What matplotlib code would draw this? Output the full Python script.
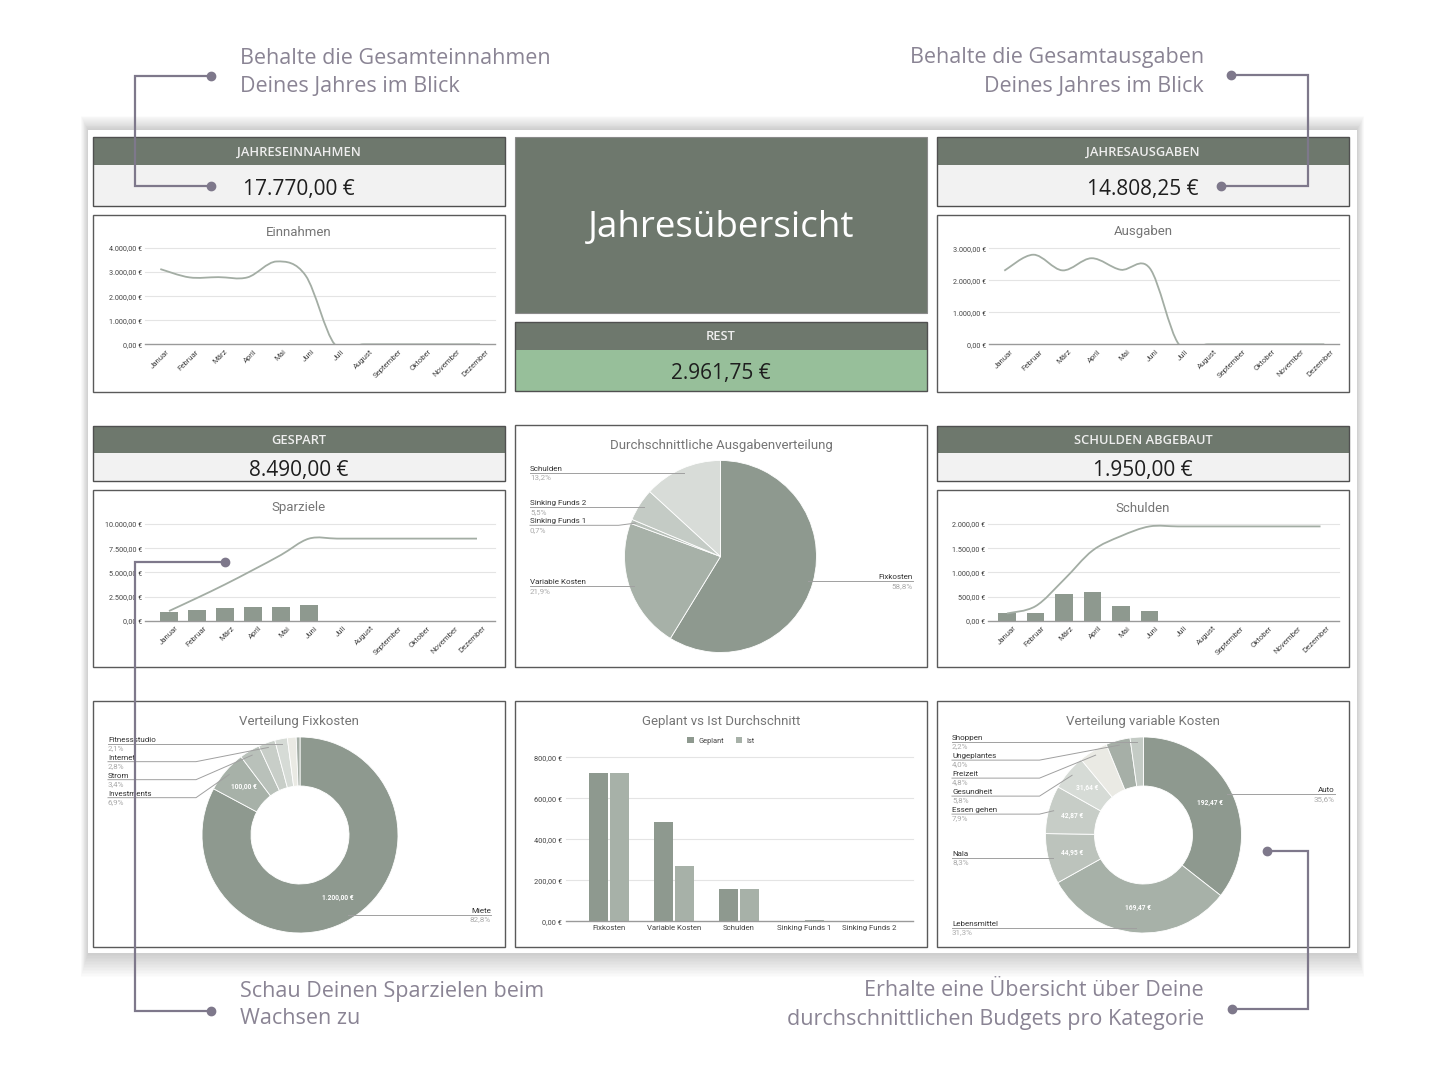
import numpy as np
import matplotlib.pyplot as plt
from matplotlib.patches import Rectangle, PathPatch
from matplotlib.path import Path
from matplotlib.transforms import ScaledTranslation

plt.rcParams['font.family'] = ['Roboto', 'DejaVu Sans']

W, H = 1445, 1084

# ---- data ----
monate = ['Januar', 'Februar', 'März', 'April', 'Mai', 'Juni', 'Juli',
          'August', 'September', 'Oktober', 'November', 'Dezember']
einnahmen = [3125, 2780, 2790, 2780, 3440, 2855, 0, 0, 0, 0, 0, 0]
ausgaben = [2300, 2800, 2310, 2690, 2330, 2378.25, 0, 0, 0, 0, 0, 0]
spar_monat = [900, 1100, 1280, 1380, 1450, 1590]
spar_gesamt = [1000, 2350, 3750, 5250, 6800, 8490, 8490, 8490, 8490, 8490, 8490, 8490]
schulden_monat = [150, 150, 550, 600, 300, 200]
schulden_gesamt = [150, 300, 850, 1450, 1750, 1950, 1950, 1950, 1950, 1950, 1950, 1950]

ausgaben_kat = ['Fixkosten', 'Variable Kosten', 'Sinking Funds 1', 'Sinking Funds 2', 'Schulden']
ausgaben_anteil = [58.8, 21.9, 0.7, 5.5, 13.2]

vergleich_kat = ['Fixkosten', 'Variable Kosten', 'Schulden', 'Sinking Funds 1', 'Sinking Funds 2']
geplant = [725, 483, 160, 3, 3]
ist = [725, 271, 160, 6, 2]

fix_kat = ['Miete', 'Investments', 'Strom', 'Internet', 'Fitnessstudio', '', '']
fix_wert = [1200, 100, 49, 40, 30, 21, 9]

var_kat = ['Auto', 'Lebensmittel', 'Nala', 'Essen gehen', 'Gesundheit',
           'Freizeit', 'Ungeplantes', 'Shoppen']
var_wert = [192.47, 169.47, 44.95, 42.87, 31.64, 25.95, 21.63, 11.89]

# colours
DUNKEL = '#6E786D'
WERT_BG = '#F2F2F2'
GRUEN = '#97BF9A'
BAR1 = '#8E998F'
BAR2 = '#A7B1A8'
LINIE = '#A3ADA4'
ANNO = '#7E788B'


def eur(v):
    s = f"{v:,.2f}".replace(',', 'X').replace('.', ',').replace('X', '.')
    return s + ' €'


def prozent(p):
    return f"{p:.1f}%".replace('.', ',')


def smooth_path(xs, ys):
    pts = np.column_stack([xs, ys]).astype(float)
    n = len(pts)
    verts = [pts[0]]
    codes = [Path.MOVETO]
    for i in range(n - 1):
        p0 = pts[max(i - 1, 0)]
        p1 = pts[i]
        p2 = pts[i + 1]
        p3 = pts[min(i + 2, n - 1)]
        verts += [p1 + (p2 - p0) / 6, p2 - (p3 - p1) / 6, p2]
        codes += [Path.CURVE4] * 3
    return Path(verts, codes)


def px_rect(x0, y0, x1, y1):
    return [x0 / W, 1 - y1 / H, (x1 - x0) / W, (y1 - y0) / H]


fig = plt.figure(figsize=(W / 100, H / 100), dpi=100)
base = fig.add_axes([0, 0, 1, 1], zorder=0)
base.set_xlim(0, W)
base.set_ylim(H, 0)
base.axis('off')


def rect(x0, y0, x1, y1, fc, ec='none', lw=0, z=1, **kw):
    base.add_patch(Rectangle((x0, y0), x1 - x0, y1 - y0, facecolor=fc,
                             edgecolor=ec, linewidth=lw, zorder=z, **kw))


# shadow + sheet
for k in range(16, 0, -1):
    rect(88 - 0.45 * k, 130 - 0.9 * k, 1357 + 0.45 * k, 953 + 1.5 * k,
         '#000000', alpha=0.012, z=0.5)
rect(88, 130, 1357, 953, 'white', z=1)

KFONT = ['Open Sans', 'DejaVu Sans']


def kpi(x0, y0, x1, ym, y1, titel, wert, bg=WERT_BG):
    rect(x0, y0, x1, ym, DUNKEL, z=2)
    rect(x0, ym, x1, y1, bg, z=2)
    rect(x0, y0, x1, y1, 'none', ec='#505050', lw=1, z=3)
    base.text((x0 + x1) / 2, (y0 + ym) / 2 + 1, titel, ha='center', va='center',
              color='#EEEEEE', fontsize=9.3, family=KFONT,
              fontweight='semibold', zorder=4)
    base.text((x0 + x1) / 2, (ym + y1) / 2 + 3.5, wert, ha='center', va='center',
              color='#1E1E1E', fontsize=15, family=KFONT, zorder=4)


def box(x0, y0, x1, y1, titel, ty):
    rect(x0, y0, x1, y1, 'white', ec='#5A5A5A', lw=1, z=2)
    base.text((x0 + x1) / 2, ty, titel, ha='center', va='center',
              color='#757575', fontsize=9.5, zorder=4)


kpi(93, 137, 505, 165, 206, 'JAHRESEINNAHMEN', eur(sum(einnahmen)))
kpi(937, 137, 1349, 165, 206, 'JAHRESAUSGABEN', eur(sum(ausgaben)))
kpi(515, 322, 927, 350, 391, 'REST', eur(sum(einnahmen) - sum(ausgaben)), bg=GRUEN)
kpi(93, 426, 505, 453, 481, 'GESPART', eur(spar_gesamt[-1]))
kpi(937, 426, 1349, 453, 481, 'SCHULDEN ABGEBAUT', eur(sum(schulden_monat)))

rect(515, 137, 927, 313, DUNKEL, ec='#8A8A8A', lw=0.8, z=2)
base.text(721, 228, 'Jahresübersicht', ha='center', va='center', color='white',
          fontsize=26.5, family=KFONT, zorder=4)

box(93, 215, 505, 392, 'Einnahmen', 232)
box(937, 215, 1349, 392, 'Ausgaben', 232)
box(93, 490, 505, 667, 'Sparziele', 508)
box(937, 490, 1349, 667, 'Schulden', 508)
box(515, 425, 927, 667, 'Durchschnittliche Ausgabenverteilung', 445)
box(93, 701, 505, 947, 'Verteilung Fixkosten', 722)
box(515, 701, 927, 947, 'Geplant vs Ist Durchschnitt', 722)
box(937, 701, 1349, 947, 'Verteilung variable Kosten', 722)


def monats_chart(x0, x1, ytop, ybot, xfirst, xlast, ymax, ystep, linie, balken=None):
    ax = fig.add_axes(px_rect(x0, ytop, x1, ybot), zorder=2)
    ax.set_facecolor('none')
    step = (xlast - xfirst) / 11
    ax.set_xlim(-(xfirst - x0) / step, 11 + (x1 - xlast) / step)
    ax.set_ylim(0, ymax)
    ticks = np.arange(0, ymax + 1, ystep)
    for t in ticks[1:]:
        ax.axhline(t, color='#E4E4E4', lw=0.8, clip_on=False, zorder=0)
    ax.axhline(0, color='#9A9A9A', lw=1.0, clip_on=False, zorder=3)
    x = np.arange(12)
    if balken is not None:
        ax.bar(x[:len(balken)], balken, width=0.62, color=BAR1, zorder=2)
    ax.add_patch(PathPatch(smooth_path(x, linie), fill=False, edgecolor=LINIE,
                           lw=1.3, zorder=4))
    for s in ax.spines.values():
        s.set_visible(False)
    ax.set_yticks(ticks, [eur(t) for t in ticks])
    ax.set_xticks(x, monate, rotation=45, ha='right', rotation_mode='anchor')
    ax.tick_params(length=0, labelsize=5.2, labelcolor='#444444')
    ax.tick_params(axis='x', labelsize=5.6, pad=3)
    ax.tick_params(axis='y', pad=2)
    off = ScaledTranslation(6 / 100, 0, fig.dpi_scale_trans)
    for lab in ax.get_xticklabels():
        lab.set_transform(lab.get_transform() + off)
    return ax


monats_chart(145, 495, 248, 344.3, 160.3, 480, 4000, 1000, einnahmen)
monats_chart(989, 1339, 248.3, 344.3, 1004.3, 1324.3, 3000, 1000, ausgaben)
monats_chart(145, 495, 524, 620.7, 169, 477, 10000, 2500, spar_gesamt, spar_monat)
monats_chart(988, 1339, 524, 620.7, 1007, 1320.5, 2000, 500, schulden_gesamt, schulden_monat)


def pie_panel(x0, y0, x1, y1, cx, cy, r, werte, namen, farben, loch=None,
              anteile=None, innen=False):
    ax = fig.add_axes(px_rect(x0, y0, x1, y1), zorder=2)
    w, h = x1 - x0, y1 - y0
    lcx, lcy = cx - x0, y1 - cy
    wp = dict(edgecolor='white', linewidth=0.6)
    if loch:
        wp['width'] = r * loch
    wedges, _ = ax.pie(werte, colors=farben, startangle=90, counterclock=False,
                       center=(lcx, lcy), radius=r, wedgeprops=wp)
    ax.set_xlim(0, w)
    ax.set_ylim(0, h)
    ax.set_aspect('auto')
    ax.axis('off')
    total = sum(werte)
    pcts = anteile if anteile is not None else [v / total * 100 for v in werte]
    items = []
    for wdg, name, p, v in zip(wedges, namen, pcts, werte):
        mid = np.deg2rad((wdg.theta1 + wdg.theta2) / 2)
        c, s = np.cos(mid), np.sin(mid)
        if name:
            items.append((c < 0, lcx + 0.95 * r * c, lcy + 0.95 * r * s, name, p))
        if innen and p >= 5:
            rr = r * (1 - loch / 2)
            ax.text(lcx + rr * c, lcy + rr * s, eur(v), color='white', fontsize=4.8,
                    ha='center', va='center', fontweight='bold')
    for links in (True, False):
        grp = sorted([it for it in items if it[0] == links], key=lambda it: -it[2])
        prev = None
        for _, axx, ayy, name, p in grp:
            ly = ayy if prev is None else min(ayy, prev - 18)
            prev = ly
            if links:
                tx, bx, ha = 15, lcx - r - 6, 'left'
            else:
                tx, bx, ha = w - 14, lcx + r + 6, 'right'
            ax.plot([tx, bx, axx], [ly, ly, ayy], color='#A0A0A0', lw=0.7)
            ax.text(tx, ly + 2, name, ha=ha, va='baseline', fontsize=5.8, color='#333333')
            ax.text(tx, ly - 1.5, prozent(p), ha=ha, va='top', fontsize=5.8, color='#AAAAAA')
    return ax


pie_panel(515, 425, 927, 667, 720.5, 556.5, 96, ausgaben_anteil, ausgaben_kat,
          [BAR1, BAR2, '#B8C0B9', '#C4CBC5', '#D8DCD8'], anteile=ausgaben_anteil)
pie_panel(93, 701, 505, 947, 300, 835, 98, fix_wert, fix_kat,
          [BAR1, BAR2, '#B9C1BA', '#C8CEC8', '#D6DBD6', '#EAEAE4', '#A6AFA7'],
          loch=0.5, innen=True)
pie_panel(937, 701, 1349, 947, 1143.5, 835, 98, var_wert, var_kat,
          [BAR1, BAR2, '#BCC3BC', '#C7CDC7', '#D6DBD6', '#EAEAE4', '#A6AFA7', '#C4CBC5'],
          loch=0.5, innen=True)

# Geplant vs Ist
ax = fig.add_axes(px_rect(566, 757.3, 913, 921.3), zorder=2)
ax.set_facecolor('none')
xs = np.arange(len(vergleich_kat))
ax.set_xlim(-(609 - 566) / 65, 4 + (913 - 869) / 65)
ax.set_ylim(0, 800)
for t in range(200, 801, 200):
    ax.axhline(t, color='#E4E4E4', lw=0.8, clip_on=False, zorder=0)
ax.axhline(0, color='#9A9A9A', lw=1.0, clip_on=False, zorder=3)
b1 = ax.bar(xs - 0.165, geplant, 0.3, color=BAR1, label='Geplant', zorder=2)
b2 = ax.bar(xs + 0.165, ist, 0.3, color=BAR2, label='Ist', zorder=2)
for s in ax.spines.values():
    s.set_visible(False)
ax.set_yticks(range(0, 801, 200), [eur(t) for t in range(0, 801, 200)])
ax.set_xticks(xs, vergleich_kat)
ax.tick_params(length=0, labelsize=5.3, labelcolor='#444444')
ax.tick_params(axis='x', labelsize=5.6, pad=3)
ax.tick_params(axis='y', pad=3)
ax.legend(handles=[b1, b2], loc='center', bbox_to_anchor=(721 / W, 1 - 741 / H),
          bbox_transform=fig.transFigure, ncol=2, frameon=False, fontsize=5.3,
          handlelength=0.9, handleheight=0.9, columnspacing=1.6, handletextpad=0.6,
          labelcolor='#444444')

# annotations
ov = fig.add_axes([0, 0, 1, 1], zorder=10)
ov.set_xlim(0, W)
ov.set_ylim(H, 0)
ov.axis('off')


def klammer(pts):
    xx, yy = zip(*pts)
    ov.plot(xx, yy, color=ANNO, lw=1.6, solid_joinstyle='miter')
    ov.plot([xx[0], xx[-1]], [yy[0], yy[-1]], 'o', color=ANNO, ms=6)


klammer([(211, 76), (135, 76), (135, 186), (211, 186)])
klammer([(1231, 75), (1308, 75), (1308, 186), (1221, 186)])
klammer([(225, 562), (135, 562), (135, 1011), (211, 1011)])
klammer([(1267, 851), (1308, 851), (1308, 1009), (1232, 1009)])

afont = dict(family=['Open Sans', 'DejaVu Sans'], fontsize=15.5,
             color='#8A8494', va='center')
ov.text(240, 58, 'Behalte die Gesamteinnahmen', ha='left', **afont)
ov.text(240, 86, 'Deines Jahres im Blick', ha='left', **afont)
ov.text(1204, 58, 'Behalte die Gesamtausgaben', ha='right', **afont)
ov.text(1204, 86, 'Deines Jahres im Blick', ha='right', **afont)
ov.text(240, 991, 'Schau Deinen Sparzielen beim', ha='left', **afont)
ov.text(240, 1019, 'Wachsen zu', ha='left', **afont)
ov.text(1204, 991, 'Erhalte eine Übersicht über Deine', ha='right', **afont)
ov.text(1204, 1019, 'durchschnittlichen Budgets pro Kategorie', ha='right', **afont)

fig.savefig('out.png', dpi=100)
